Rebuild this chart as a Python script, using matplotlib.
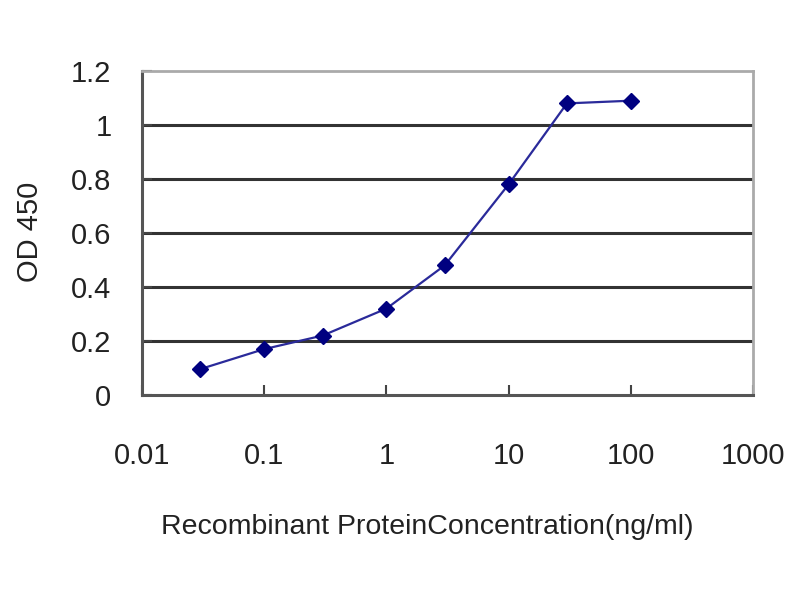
import matplotlib
matplotlib.use("Agg")
import matplotlib.pyplot as plt
from matplotlib.ticker import FixedLocator, FixedFormatter, NullLocator

plt.rcParams['font.family'] = ['Liberation Sans', 'DejaVu Sans']

concentration = [0.03, 0.1, 0.3, 1, 3, 10, 30, 100]
od450 = [0.096, 0.17, 0.22, 0.32, 0.48, 0.78, 1.08, 1.09]
x_ticks = [0.01, 0.1, 1, 10, 100, 1000]
x_tick_labels = ["0.01", "0.1", "1", "10", "100", "1000"]
y_ticks = [0, 0.2, 0.4, 0.6, 0.8, 1, 1.2]
y_tick_labels = ["0", "0.2", "0.4", "0.6", "0.8", "1", "1.2"]

fig = plt.figure(figsize=(8, 6), dpi=100)
ax = fig.add_axes([142/800, 1 - 395/600, (753-142)/800, (395-71)/600])

ax.set_xscale('log')
ax.set_xlim(0.01, 1000)
ax.set_ylim(0, 1.2)

for y in y_ticks[1:-1]:
    ax.axhline(y, color='#333333', lw=2.2, zorder=1)

ax.plot(concentration, od450, color='#2a2a9a', lw=1.6, marker='D',
        markersize=8, markerfacecolor='#000080', markeredgecolor='#000080', zorder=3)

ax.xaxis.set_major_locator(FixedLocator(x_ticks))
ax.xaxis.set_major_formatter(FixedFormatter(x_tick_labels))
ax.xaxis.set_minor_locator(NullLocator())
ax.yaxis.set_major_locator(FixedLocator(y_ticks))
ax.yaxis.set_major_formatter(FixedFormatter(y_tick_labels))

ax.tick_params(axis='both', direction='in', length=7, width=1.5, color='#444444',
               labelsize=21, labelcolor='#222222')
ax.tick_params(axis='x', pad=34)
ax.tick_params(axis='y', pad=22)

for s in ['left', 'bottom']:
    ax.spines[s].set_color('#555555')
    ax.spines[s].set_linewidth(2.2)
for s in ['top', 'right']:
    ax.spines[s].set_color('#aaaaaa')
    ax.spines[s].set_linewidth(2)

fig.text(30/800, 1 - 232/600, 'OD 450', rotation=90, ha='center', va='center',
         fontsize=21, color='#222222')
fig.text(427/800, 1 - 527/600, 'Recombinant ProteinConcentration(ng/ml)',
         ha='center', va='center', fontsize=20.5, color='#222222')

fig.savefig('out.png', dpi=100)
